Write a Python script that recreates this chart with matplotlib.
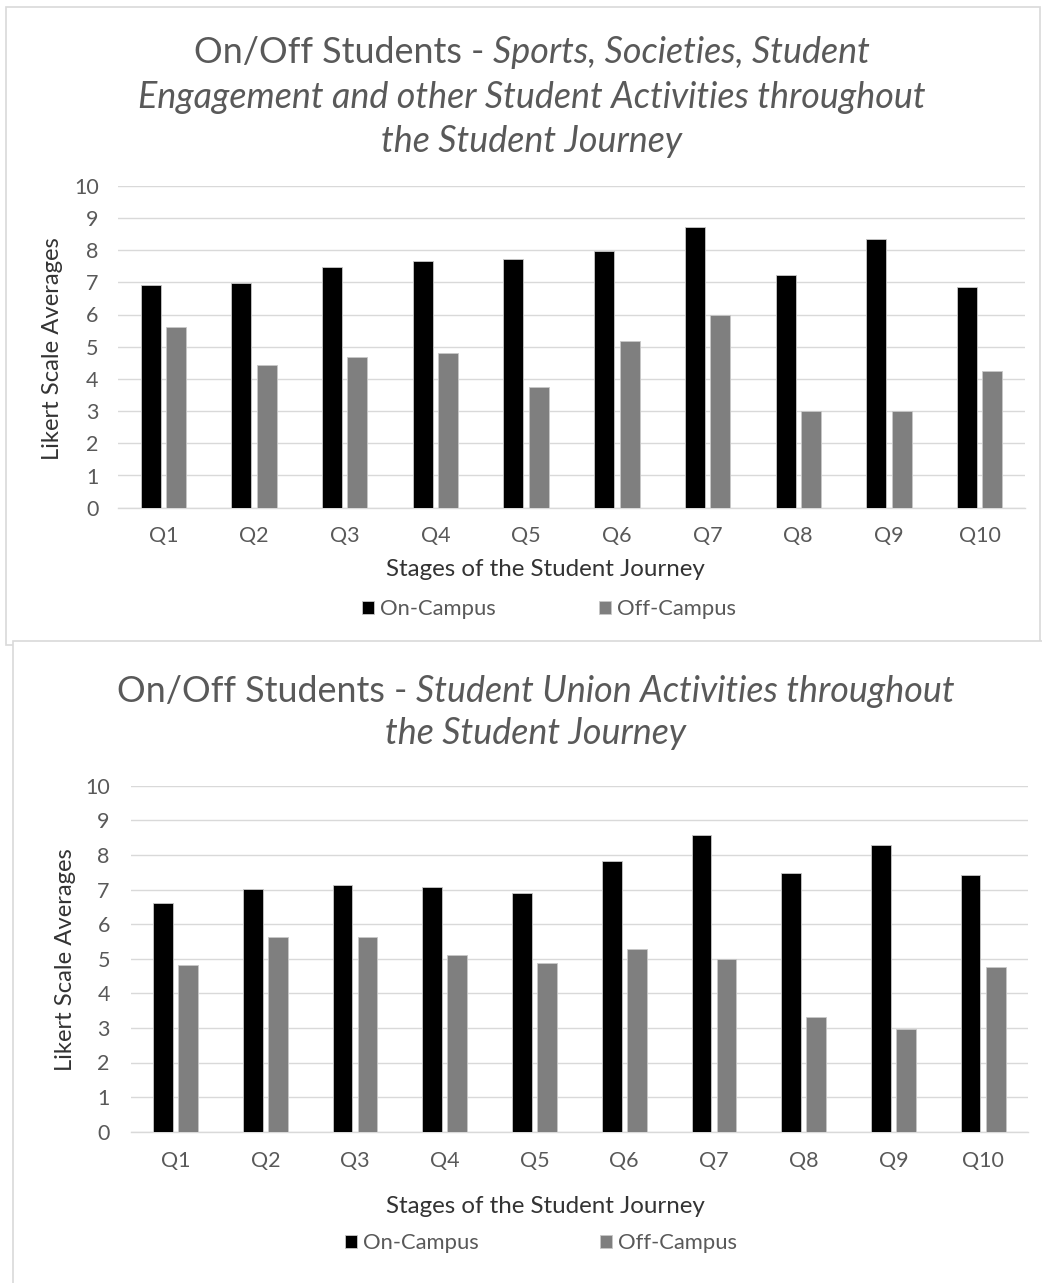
import numpy as np
import matplotlib.pyplot as plt
from matplotlib.patches import Rectangle

questions = ['Q1', 'Q2', 'Q3', 'Q4', 'Q5', 'Q6', 'Q7', 'Q8', 'Q9', 'Q10']
y_ticks = [0, 1, 2, 3, 4, 5, 6, 7, 8, 9, 10]

# Chart 1: sports, societies, engagement
sports_on = [6.91, 6.98, 7.47, 7.67, 7.73, 7.98, 8.72, 7.23, 8.34, 6.85]
sports_off = [5.61, 4.43, 4.67, 4.80, 3.75, 5.18, 5.99, 3.01, 3.01, 4.24]

# Chart 2: student union activities
union_on = [6.61, 7.01, 7.13, 7.07, 6.90, 7.83, 8.57, 7.48, 8.29, 7.42]
union_off = [4.82, 5.63, 5.63, 5.11, 4.87, 5.28, 4.99, 3.31, 2.97, 4.76]

W, H, DPI = 1042, 1283, 100
plt.rcParams['font.family'] = ['Lato', 'DejaVu Sans']

TXT = '#595959'
DARK = '#333333'
GRID = '#d9d9d9'

fig = plt.figure(figsize=(W / DPI, H / DPI), dpi=DPI)
fig.patch.set_facecolor('white')

# chart frames (pixel coords from top-left), kept behind the axes
fig.add_artist(Rectangle((6 / W, 1 - 645 / H), 1034 / W, 638 / H, transform=fig.transFigure,
                         facecolor='white', edgecolor=GRID, lw=1.2, zorder=-2))
fig.add_artist(Rectangle((12.5 / W, -0.01), 1.1, (1283 - 641.5) / H + 0.01, transform=fig.transFigure,
                         facecolor='white', edgecolor=GRID, lw=1.2, zorder=-1))


def px_axes(x0, x1, y_top, y_bot):
    ax = fig.add_axes([x0 / W, 1 - y_bot / H, (x1 - x0) / W, (y_bot - y_top) / H])
    ax.patch.set_alpha(0)
    return ax


def draw_bars(ax, on, off, ypad, xpad):
    x = np.arange(len(questions))
    w = 0.22
    b1 = ax.bar(x - 0.14, on, w, color='black', edgecolor='#c8c8c8', lw=0.6, label='On-Campus', zorder=3)
    b2 = ax.bar(x + 0.14, off, w, color='#7f7f7f', edgecolor='#c8c8c8', lw=0.6, label='Off-Campus', zorder=3)
    ax.set_xlim(-0.5, len(questions) - 0.5)
    ax.set_ylim(0, 10)
    ax.set_yticks(y_ticks)
    ax.set_xticks(x)
    ax.set_xticklabels(questions)
    ax.yaxis.grid(True, color=GRID, lw=1.0, zorder=0)
    ax.set_axisbelow(True)
    for s in ['top', 'right', 'left']:
        ax.spines[s].set_visible(False)
    ax.spines['bottom'].set_color(GRID)
    ax.spines['bottom'].set_linewidth(1.0)
    ax.tick_params(axis='both', length=0, labelsize=15.5, labelcolor=TXT)
    ax.tick_params(axis='y', pad=ypad)
    ax.tick_params(axis='x', pad=xpad)
    return b1, b2


def title_line(cx, base_y, parts, size):
    r = fig.canvas.get_renderer()
    texts = [fig.text(0, 1 - base_y / H, s, fontsize=size, style=st, color=TXT, va='baseline')
             for s, st in parts]
    widths = [t.get_window_extent(r).width for t in texts]
    gap = 0.25 * size * DPI / 72
    total = sum(widths) + gap * (len(texts) - 1)
    x = cx - total / 2
    for t, w in zip(texts, widths):
        t.set_x(x / W)
        x += w + gap


TS = 25.8

# ---- top chart ----
ax1 = px_axes(118, 1025, 185.7, 507.7)
h1 = draw_bars(ax1, sports_on, sports_off, 14, 13)
title_line(532, 63, [('On/Off Students -', 'normal'), ('Sports, Societies, Student', 'italic')], TS)
title_line(532, 108, [('Engagement and other Student Activities throughout', 'italic')], TS)
title_line(532, 152, [('the Student Journey', 'italic')], TS)
fig.text(53 / W, 1 - 348.5 / H, 'Likert Scale Averages', rotation=90, ha='center', va='center',
         fontsize=17.2, color=DARK)
fig.text(545 / W, 1 - 570 / H, 'Stages of the Student Journey', ha='center', va='center',
         fontsize=17.4, color=DARK)
ax1.legend(handles=h1, loc='center', bbox_to_anchor=(549 / W, 1 - 609 / H), bbox_transform=fig.transFigure,
           ncol=2, frameon=False, fontsize=15.8, labelcolor=TXT, handlelength=0.55, handleheight=0.55,
           handletextpad=0.27, columnspacing=4.7)

# ---- bottom chart ----
ax2 = px_axes(130.7, 1028, 785.7, 1131.7)
h2 = draw_bars(ax2, union_on, union_off, 15, 14)
title_line(536, 702, [('On/Off Students -', 'normal'), ('Student Union Activities throughout', 'italic')], TS)
title_line(536, 744, [('the Student Journey', 'italic')], TS)
fig.text(66 / W, 1 - 960 / H, 'Likert Scale Averages', rotation=90, ha='center', va='center',
         fontsize=17.2, color=DARK)
fig.text(545 / W, 1 - 1206.7 / H, 'Stages of the Student Journey', ha='center', va='center',
         fontsize=17.4, color=DARK)
ax2.legend(handles=h2, loc='center', bbox_to_anchor=(541 / W, 1 - 1243 / H), bbox_transform=fig.transFigure,
           ncol=2, frameon=False, fontsize=15.8, labelcolor=TXT, handlelength=0.55, handleheight=0.55,
           handletextpad=0.27, columnspacing=5.5)

fig.savefig('out.png', dpi=DPI, facecolor='white')
